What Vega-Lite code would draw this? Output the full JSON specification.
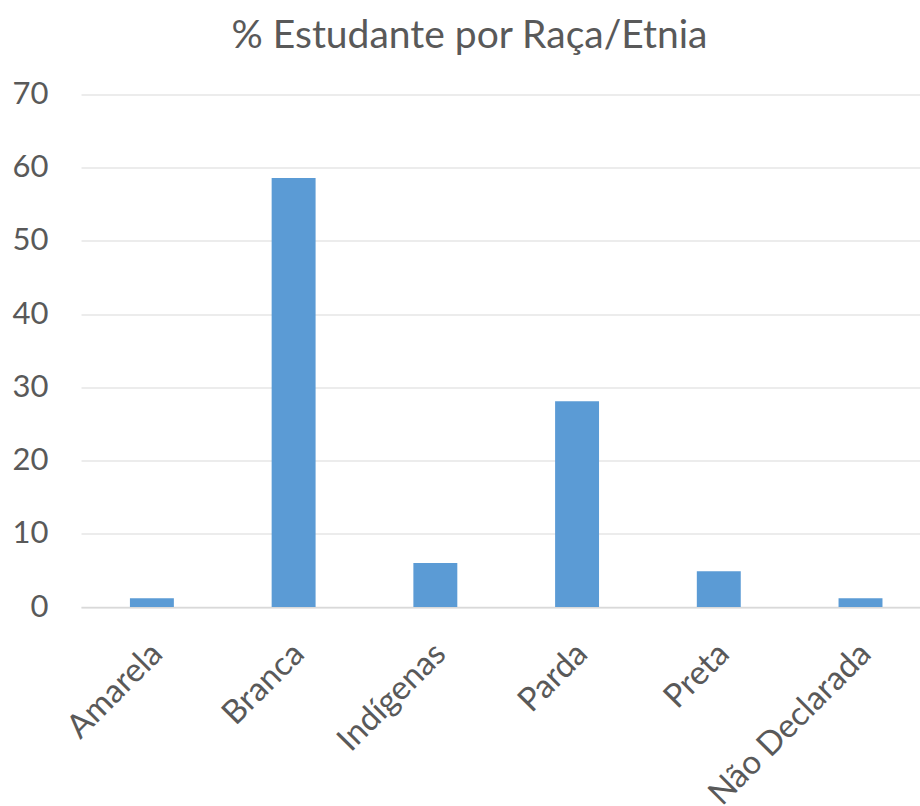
{
  "$schema": "https://vega.github.io/schema/vega-lite/v6.json",
  "autosize": {"type": "none"},
  "padding": {"left": 81, "top": 94.5, "right": 0, "bottom": 199},
  "width": 839,
  "height": 512.5,
  "background": "white",
  "title": {
    "text": "% Estudante por Raça/Etnia",
    "font": "Lato",
    "fontSize": 39,
    "fontWeight": "normal",
    "color": "#595959",
    "offset": 23,
    "dx": -31
  },
  "data": {
    "values": [
      {"raca": "Amarela", "pct": 1.2},
      {"raca": "Branca", "pct": 58.6},
      {"raca": "Indígenas", "pct": 6.0},
      {"raca": "Parda", "pct": 28.1},
      {"raca": "Preta", "pct": 4.9},
      {"raca": "Não Declarada", "pct": 1.2}
    ]
  },
  "config": {"view": {"stroke": null}},
  "mark": {"type": "bar", "color": "#5B9BD5"},
  "encoding": {
    "x": {
      "field": "raca",
      "type": "nominal",
      "sort": null,
      "scale": {"paddingInner": 0.69, "paddingOuter": 0.305, "align": 0.566},
      "axis": {
        "title": null,
        "labelAngle": -45,
        "labelFont": "Lato",
        "labelFontSize": 33,
        "labelColor": "#595959",
        "labelPadding": 30,
        "labelOffset": -6,
        "ticks": false,
        "domain": true,
        "domainColor": "#D9D9D9",
        "domainWidth": 1.5,
        "labelOverlap": false,
        "labelLimit": 400
      }
    },
    "y": {
      "field": "pct",
      "type": "quantitative",
      "scale": {"domain": [0, 70], "nice": false},
      "axis": {
        "title": null,
        "values": [0, 10, 20, 30, 40, 50, 60, 70],
        "labelFont": "Lato",
        "labelFontSize": 31,
        "labelColor": "#595959",
        "labelPadding": 33,
        "ticks": false,
        "domain": false,
        "gridColor": "#D9D9D9",
        "gridWidth": 1
      }
    }
  }
}
